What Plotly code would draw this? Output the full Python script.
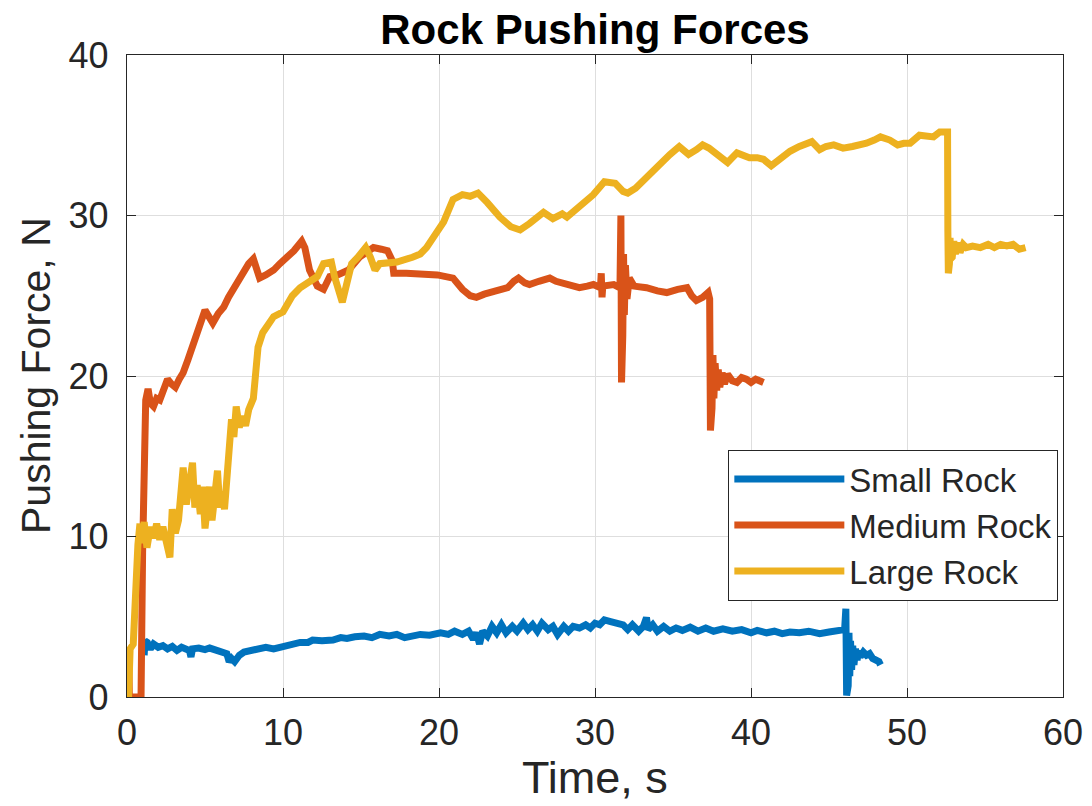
import plotly.graph_objects as go

# ---- data (time s, force N) ----
SMALL_ROCK = [
    (1.1, 2.6), (1.15, 3.5), (1.3, 3.4), (1.5, 3.0), (1.7, 3.3), (2.0, 3.1), (2.3, 3.2), (2.6, 3.0),
    (2.9, 3.15), (3.2, 2.9), (3.5, 3.1), (3.8, 2.95), (4.0, 2.9), (4.1, 2.5), (4.2, 3.0), (4.6, 3.05),
    (5.0, 2.95), (5.3, 3.05), (5.7, 2.9), (6.1, 2.8), (6.4, 2.7), (6.55, 2.2), (6.7, 2.4), (6.9, 2.2),
    (7.2, 2.6), (7.5, 2.8), (7.9, 2.9), (8.4, 3.0), (8.9, 3.1), (9.4, 3.0), (9.8, 3.1), (10.4, 3.2),
    (11.1, 3.4), (11.6, 3.4), (11.9, 3.55), (12.5, 3.5), (13.2, 3.55), (13.7, 3.7), (14.1, 3.65),
    (14.6, 3.75), (15.2, 3.8), (15.7, 3.7), (16.2, 3.9), (16.8, 3.8), (17.3, 3.9), (17.8, 3.7),
    (18.3, 3.8), (18.8, 3.9), (19.4, 3.85), (20.1, 4.0), (20.6, 3.9), (21.0, 4.1), (21.5, 3.9),
    (21.9, 4.1), (22.2, 3.6), (22.4, 4.0), (22.6, 3.3), (22.8, 4.1), (23.1, 3.8), (23.4, 4.4),
    (23.7, 4.0), (24.0, 4.5), (24.3, 4.0), (24.7, 4.4), (25.0, 4.1), (25.4, 4.6), (25.7, 4.2),
    (26.0, 4.5), (26.3, 4.1), (26.6, 4.6), (27.0, 4.2), (27.3, 4.4), (27.6, 3.9), (28.0, 4.4),
    (28.3, 4.1), (28.6, 4.4), (29.0, 4.3), (29.4, 4.5), (29.7, 4.3), (30.0, 4.6), (30.3, 4.5),
    (30.6, 4.8), (31.0, 4.7), (31.4, 4.6), (31.8, 4.5), (32.1, 4.2), (32.4, 4.5), (32.8, 4.1),
    (33.1, 4.4), (33.3, 4.95), (33.4, 4.2), (33.7, 4.5), (34.0, 4.1), (34.4, 4.4), (34.8, 4.1),
    (35.2, 4.3), (35.6, 4.15), (36.1, 4.35), (36.6, 4.1), (37.1, 4.3), (37.6, 4.1), (38.2, 4.25),
    (38.8, 4.1), (39.4, 4.2), (40.0, 4.0), (40.4, 4.15), (41.0, 4.0), (41.5, 4.1), (42.0, 3.95),
    (42.5, 4.05), (43.1, 4.0), (43.7, 4.1), (44.4, 3.95), (45.0, 4.05), (45.7, 4.1), (46.0, 4.2),
    (46.08, 5.5), (46.13, 0.1), (46.18, 4.7), (46.23, 0.7), (46.28, 4.0), (46.33, 1.3), (46.38, 3.5),
    (46.45, 1.7), (46.52, 3.2), (46.6, 2.0), (46.7, 3.0), (46.8, 2.3), (46.9, 2.9), (47.0, 2.5),
    (47.2, 2.8), (47.4, 2.6), (47.6, 2.7), (47.8, 2.4), (48.0, 2.3), (48.2, 2.2), (48.3, 2.0),
]

MEDIUM_ROCK = [
    (0.0, 0.0), (0.03, 1.9), (0.12, 1.9), (0.15, 0.0), (0.9, 0.0), (1.0, 9.0), (1.1, 17.7),
    (1.2, 18.5), (1.35, 19.2), (1.5, 18.3), (1.7, 18.1), (1.9, 18.6), (2.1, 18.5), (2.35, 19.3),
    (2.6, 19.8), (2.85, 19.5), (3.1, 19.3), (3.35, 19.8), (3.6, 20.2), (3.9, 21.0), (4.2, 21.8),
    (4.6, 23.0), (5.0, 24.1), (5.25, 23.7), (5.5, 23.3), (5.85, 23.9), (6.2, 24.3), (6.5, 24.9),
    (6.8, 25.4), (7.1, 25.9), (7.4, 26.4), (7.8, 27.0), (8.1, 27.3), (8.3, 26.7), (8.5, 26.1),
    (8.9, 26.3), (9.4, 26.6), (9.8, 27.0), (10.3, 27.4), (10.7, 27.8), (11.2, 28.4), (11.4, 28.0),
    (11.7, 26.6), (12.2, 25.6), (12.6, 25.4), (13.0, 26.2), (13.5, 26.3), (14.2, 26.6), (14.9, 27.4),
    (15.3, 27.7), (15.8, 28.0), (16.3, 27.9), (16.7, 27.8), (17.0, 27.2), (17.1, 26.4), (17.9, 26.4),
    (18.8, 26.4), (19.9, 26.3), (20.9, 26.1), (21.5, 25.4), (22.0, 25.0), (22.4, 24.9), (22.9, 25.1),
    (23.3, 25.2), (23.9, 25.4), (24.4, 25.5), (24.8, 25.9), (25.1, 26.1), (25.5, 25.8), (25.8, 25.7),
    (26.4, 25.9), (27.1, 26.1), (27.5, 25.9), (27.9, 25.8), (28.5, 25.6), (29.0, 25.5), (29.5, 25.6),
    (29.9, 25.7), (30.35, 25.5), (30.4, 26.4), (30.45, 24.9), (30.5, 25.6), (31.2, 25.7), (31.6, 25.5),
    (31.66, 30.0), (31.7, 19.6), (31.74, 28.8), (31.78, 22.5), (31.83, 27.6), (31.88, 23.8),
    (31.95, 26.9), (32.05, 24.8), (32.2, 26.1), (32.5, 25.6), (33.3, 25.5), (34.0, 25.3), (34.6, 25.2),
    (35.3, 25.4), (35.9, 25.5), (36.2, 25.0), (36.5, 24.7), (36.9, 24.9), (37.25, 25.2), (37.35, 24.8),
    (37.4, 16.6), (37.45, 22.3), (37.5, 18.0), (37.56, 21.3), (37.62, 18.6), (37.7, 20.8), (37.8, 19.1),
    (37.9, 20.4), (38.0, 19.3), (38.15, 20.2), (38.3, 19.5), (38.5, 20.1), (38.8, 19.7), (39.1, 19.6),
    (39.4, 19.9), (39.7, 19.8), (40.0, 19.6), (40.3, 19.8), (40.8, 19.6),
]

LARGE_ROCK = [
    (0.1, 0.0), (0.2, 3.0), (0.4, 3.3), (0.5, 6.5), (0.7, 9.5), (0.83, 10.8), (0.9, 9.6), (1.1, 10.9),
    (1.28, 9.3), (1.5, 10.6), (1.7, 9.9), (1.9, 10.8), (2.1, 9.8), (2.3, 10.6), (2.5, 9.5), (2.75, 8.7),
    (2.9, 11.7), (3.1, 10.2), (3.3, 11.0), (3.45, 12.5), (3.6, 14.3), (3.8, 12.0), (4.0, 13.6),
    (4.2, 14.6), (4.35, 11.8), (4.5, 13.2), (4.7, 11.4), (4.85, 13.1), (5.0, 10.5), (5.15, 12.5),
    (5.3, 13.1), (5.45, 11.0), (5.6, 12.4), (5.8, 14.1), (5.95, 11.8), (6.1, 12.8), (6.25, 11.7),
    (6.4, 14.0), (6.55, 16.0), (6.7, 17.3), (6.85, 16.2), (7.0, 18.1), (7.2, 16.8), (7.4, 17.5),
    (7.6, 16.9), (7.8, 17.9), (8.1, 18.6), (8.25, 20.5), (8.4, 21.8), (8.7, 22.7), (9.0, 23.2),
    (9.4, 23.7), (10.0, 24.0), (10.6, 25.0), (11.1, 25.5), (11.5, 25.8), (12.2, 26.2), (12.6, 27.0),
    (13.1, 27.1), (13.3, 26.2), (13.8, 24.6), (14.1, 25.8), (14.4, 27.0), (14.8, 27.4), (15.3, 28.0),
    (15.6, 27.4), (15.9, 26.6), (16.2, 27.0), (16.8, 27.0), (17.3, 27.1), (18.3, 27.4), (18.8, 27.6),
    (19.2, 28.0), (19.6, 28.6), (20.3, 29.6), (20.9, 31.0), (21.5, 31.3), (22.0, 31.2), (22.5, 31.4),
    (23.1, 30.8), (23.9, 29.9), (24.6, 29.3), (25.2, 29.1), (25.8, 29.5), (26.7, 30.2), (27.3, 29.8),
    (27.9, 30.1), (28.2, 29.9), (29.0, 30.5), (29.9, 31.3), (30.6, 32.1), (31.3, 32.0), (31.8, 31.5),
    (32.1, 31.4), (32.6, 31.7), (33.1, 32.2), (33.6, 32.7), (34.2, 33.3), (34.8, 33.8), (35.4, 34.3),
    (36.0, 33.8), (36.5, 34.1), (36.9, 34.4), (37.3, 34.2), (37.7, 33.9), (38.1, 33.5), (38.5, 33.3),
    (39.1, 33.9), (39.5, 33.7), (39.9, 33.6), (40.4, 33.6), (40.8, 33.5), (41.3, 33.1), (41.9, 33.6),
    (42.5, 34.0), (43.1, 34.3), (43.9, 34.6), (44.4, 34.1), (44.8, 34.3), (45.3, 34.4), (45.9, 34.2),
    (46.5, 34.3), (47.0, 34.4), (47.4, 34.5), (47.9, 34.7), (48.3, 34.9), (48.9, 34.7), (49.4, 34.4),
    (49.8, 34.5), (50.2, 34.5), (50.8, 35.0), (51.3, 34.9), (51.7, 34.9), (52.1, 35.2), (52.6, 35.2),
    (52.62, 29.0), (52.65, 26.4), (52.68, 28.9), (52.72, 27.0), (52.76, 28.6), (52.8, 27.3),
    (52.85, 28.5), (52.9, 27.4), (53.0, 28.4), (53.1, 27.6), (53.25, 28.3), (53.4, 27.7), (53.6, 28.2),
    (53.8, 28.0), (54.2, 28.1), (54.7, 28.0), (55.2, 28.2), (55.6, 28.0), (56.0, 28.2), (56.4, 28.1),
    (56.8, 28.2), (57.2, 27.9), (57.6, 28.0),
]

SERIES_NAMES = ["Small Rock", "Medium Rock", "Large Rock"]
SERIES_COLORS = ["#0072BD", "#D95319", "#EDB120"]
X_TICKS = [0, 10, 20, 30, 40, 50, 60]
Y_TICKS = [0, 10, 20, 30, 40]
TITLE = "Rock Pushing Forces"
X_LABEL = "Time, s"
Y_LABEL = "Pushing Force, N"

FONT = "Liberation Sans, Arial, Helvetica, sans-serif"
INK = "#262626"

# the page body adds an 8px offset; margins compensate so the axes box sits at
# x 127..1063, y 55..697 in the screenshot
ML, MR, MT, MB = 119, 37, 47, 117
PLOT_W = 1092 - ML - MR
PLOT_H = 806 - MT - MB

fig = go.Figure()
for name, color, data in zip(SERIES_NAMES, SERIES_COLORS, [SMALL_ROCK, MEDIUM_ROCK, LARGE_ROCK]):
    t, f = zip(*data)
    fig.add_trace(go.Scatter(x=list(t), y=list(f), mode="lines", name=name,
                             line=dict(color=color, width=7)))

axis_common = dict(
    showline=True, mirror="ticks", linecolor=INK, linewidth=1.3,
    ticks="inside", ticklen=9, tickwidth=1.3, tickcolor=INK,
    showgrid=True, gridcolor="#dedede", gridwidth=1.2,
    zeroline=False, automargin=False,
    tickfont=dict(family=FONT, size=36, color=INK),
)

fig.update_layout(
    width=1092, height=806,
    margin=dict(l=ML, r=MR, t=MT, b=MB),
    paper_bgcolor="white", plot_bgcolor="white",
    title=dict(text=f"<b>{TITLE}</b>", x=(ML + PLOT_W / 2) / 1092, xanchor="center",
               y=1 - 21 / 806, yanchor="middle",
               font=dict(family=FONT, size=42, color="#000000")),
    xaxis=dict(range=[0, 60], tickvals=X_TICKS, ticklabelstandoff=4, **axis_common),
    yaxis=dict(range=[0, 40], tickvals=Y_TICKS, ticklabelstandoff=10, **axis_common),
    legend=dict(x=0.9947, xanchor="right", y=0.385, yanchor="top",
                bgcolor="white", bordercolor=INK, borderwidth=1.3,
                font=dict(family=FONT, size=33, color=INK),
                itemwidth=110, tracegroupgap=0),
    showlegend=True,
    annotations=[
        dict(text=X_LABEL, xref="paper", yref="paper", x=0.5, y=-(777 - 697) / PLOT_H,
             xanchor="center", yanchor="middle", showarrow=False,
             font=dict(family=FONT, size=45, color=INK)),
        dict(text=Y_LABEL, xref="paper", yref="paper", x=-(127 - 36) / PLOT_W, y=0.5,
             xanchor="center", yanchor="middle", textangle=-90, showarrow=False,
             font=dict(family=FONT, size=41, color=INK)),
    ],
)

fig.write_html("out.html")
